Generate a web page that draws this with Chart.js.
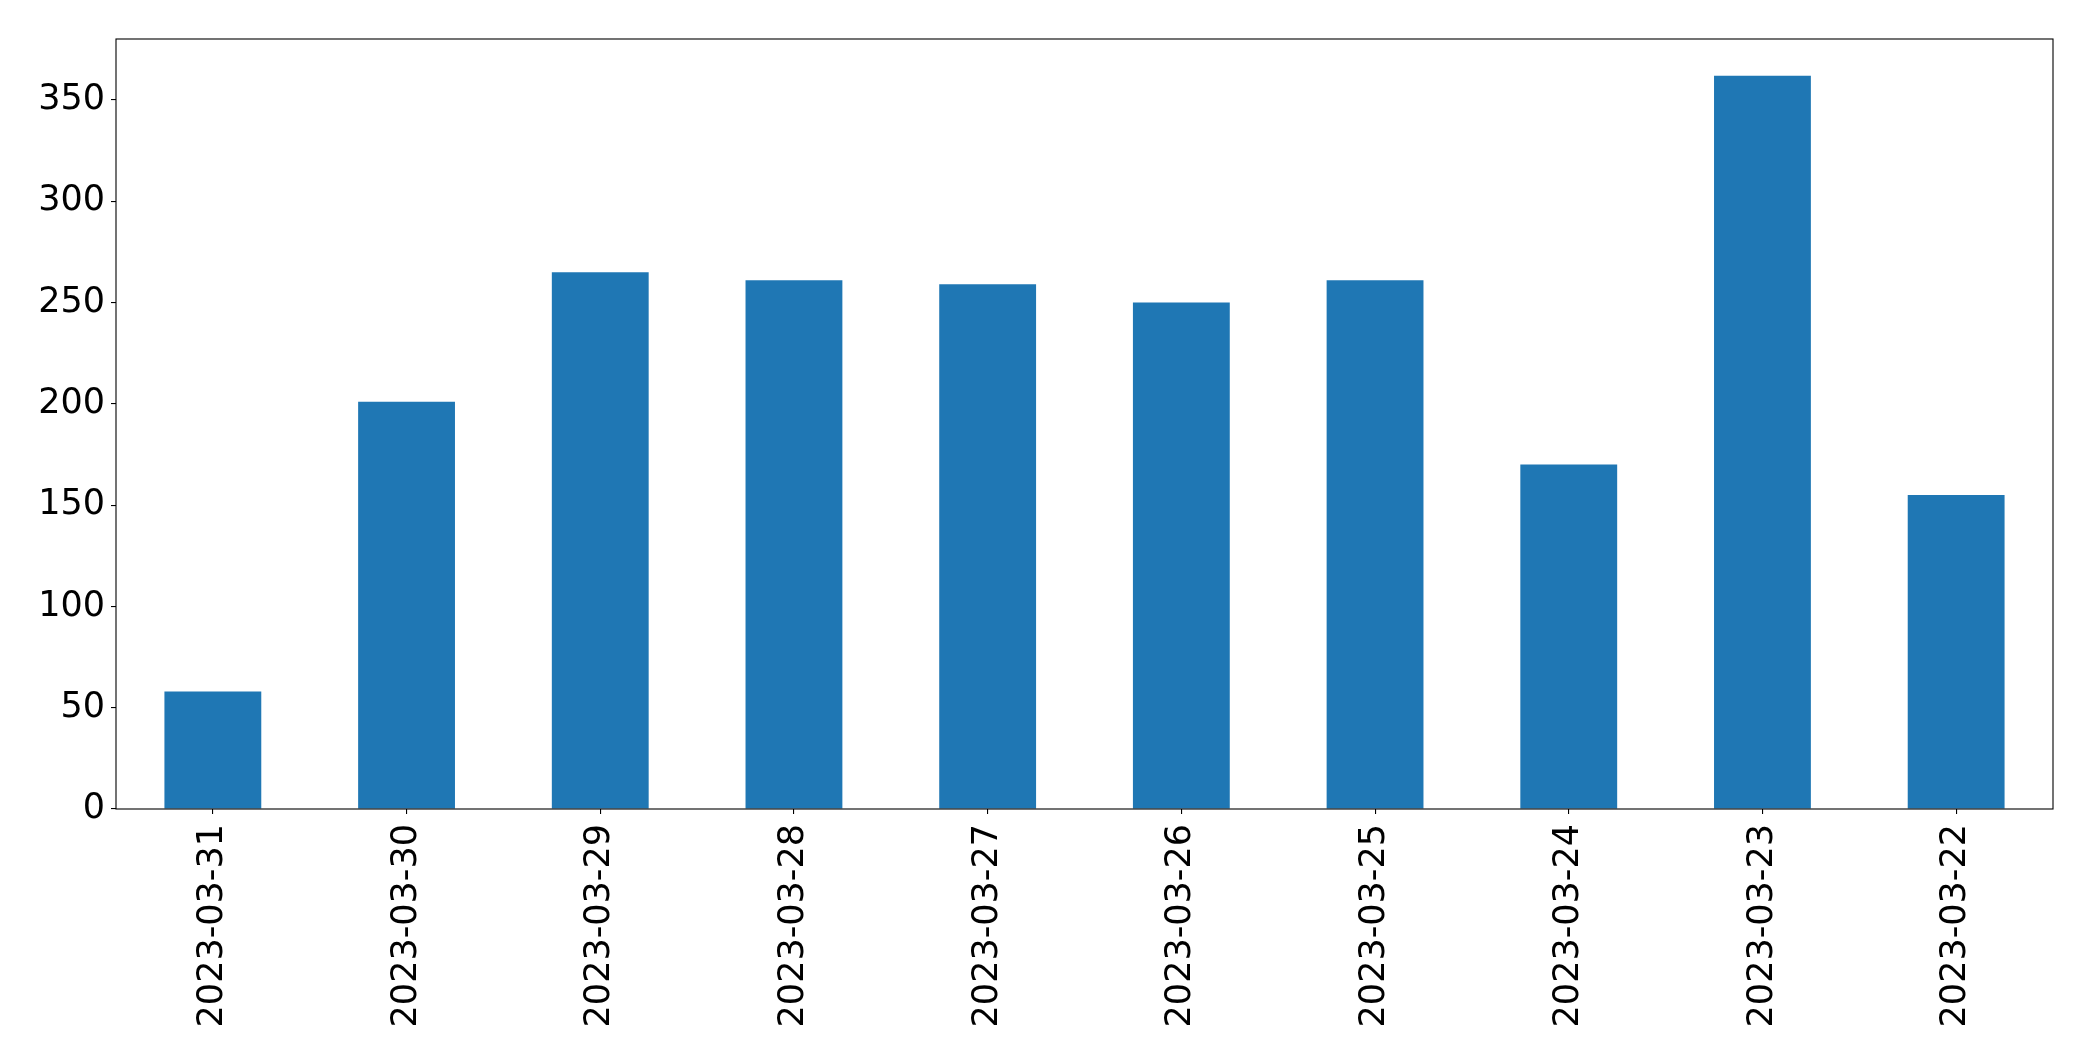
<!DOCTYPE html>
<html>
<head>
<meta charset="utf-8">
<script src="https://cdn.jsdelivr.net/npm/chart.js@4/dist/chart.umd.min.js"></script>
<style>
  html, body { margin: 0; padding: 0; background: #ffffff; }
  #wrap { width: 2093px; height: 1061px; position: relative; }
  canvas { display: block; }
</style>
</head>
<body>
<div id="wrap"><canvas id="c" width="2093" height="1061"></canvas></div>
<script>
const categories = ["2023-03-31", "2023-03-30", "2023-03-29", "2023-03-28", "2023-03-27",
                    "2023-03-26", "2023-03-25", "2023-03-24", "2023-03-23", "2023-03-22"];
const values = [58, 201, 265, 261, 259, 250, 261, 170, 362, 155];
const yTickValues = [0, 50, 100, 150, 200, 250, 300, 350];
const yMax = 380.1;

const FONT = "'DejaVu Sans', sans-serif";

const framePlugin = {
  id: 'frame',
  afterDraw(chart) {
    const a = chart.chartArea;
    const ctx = chart.ctx;
    ctx.save();
    ctx.strokeStyle = '#000000';
    ctx.lineWidth = 1.1;
    ctx.strokeRect(a.left, a.top, a.right - a.left, a.bottom - a.top);
    ctx.restore();
  }
};

new Chart(document.getElementById('c'), {
  type: 'bar',
  data: {
    labels: categories,
    datasets: [{
      data: values,
      backgroundColor: '#1f77b4',
      borderWidth: 0,
      barPercentage: 0.5,
      categoryPercentage: 1.0
    }]
  },
  options: {
    responsive: false,
    animation: false,
    devicePixelRatio: 1,
    layout: { padding: { top: 39, right: 40, left: 0, bottom: 0 } },
    plugins: {
      legend: { display: false },
      tooltip: { enabled: false },
      title: { display: false }
    },
    scales: {
      x: {
        offset: true,
        grid: { display: true, offset: false, drawOnChartArea: false, drawTicks: true, tickLength: 5, tickColor: '#000000', lineWidth: 1.1 },
        border: { display: false },
        ticks: {
          color: '#000000',
          font: { family: FONT, size: 35 },
          minRotation: 90,
          maxRotation: 90,
          padding: 10,
          autoSkip: false
        },
        afterFit(scale) { scale.height = 1061 - 809; }
      },
      y: {
        min: 0,
        max: yMax,
        grid: { display: true, drawOnChartArea: false, drawTicks: true, tickLength: 5, tickColor: '#000000', lineWidth: 1.1 },
        border: { display: false },
        afterBuildTicks(scale) {
          scale.ticks = yTickValues.map(v => ({ value: v }));
        },
        ticks: {
          color: '#000000',
          font: { family: FONT, size: 35 },
          padding: 6,
          callback: (v) => String(v)
        },
        afterFit(scale) { scale.width = 116; }
      }
    }
  },
  plugins: [framePlugin]
});
</script>
</body>
</html>
